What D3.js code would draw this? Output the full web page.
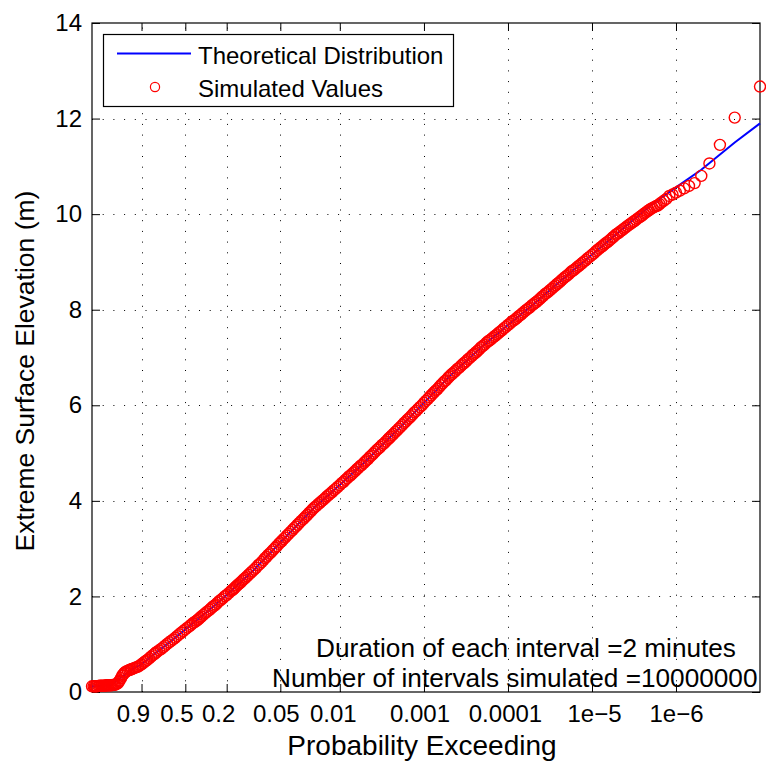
<!DOCTYPE html>
<html><head><meta charset="utf-8">
<script src="https://cdn.jsdelivr.net/npm/d3@7"></script>
<style>
body{margin:0;background:#fff;}
text{font-family:"Liberation Sans",Arial,Helvetica,sans-serif;fill:#000;}
</style>
</head><body>
<svg id="chart" width="766" height="768"></svg>
<script>
// ---------- data ----------
const xTickProbs  = [0.9, 0.5, 0.2, 0.05, 0.01, 0.001, 0.0001, 1e-5, 1e-6];
const xTickLabels = ["0.9", "0.5", "0.2", "0.05", "0.01", "0.001", "0.0001", "1e\u22125", "1e\u22126"];
const yTicks = [0, 2, 4, 6, 8, 10, 12, 14];
const xDomainProb = [0.99987, 1e-7];
const yDomain = [0, 14];

const theoProb  = [0.99987, 0.9998, 0.999, 0.995, 0.98, 0.95, 0.9, 0.8, 0.7, 0.5, 0.3, 0.2, 0.1, 0.05, 0.02, 0.01,
                   0.005, 0.002, 0.001, 5e-4, 2e-4, 1e-4, 5e-5, 2e-5, 1e-5, 5e-6, 2e-6, 1e-6, 5e-7, 2e-7, 1e-7];
const theoValue = [0.12, 0.12, 0.13, 0.14, 0.32, 0.48, 0.58, 0.80, 0.97, 1.31, 1.72, 2.03, 2.56, 3.13, 3.86, 4.33,
                   4.82, 5.51, 6.05, 6.60, 7.24, 7.68, 8.11, 8.71, 9.15, 9.60, 10.18, 10.56, 10.93, 11.50, 11.90];

// simulated values, ordered from the most to the least probable
const simProbHigh = [0.99987, 0.99981, 0.99975, 0.99968, 0.9996, 0.99945, 0.9993, 0.9991, 0.9989, 0.9986, 0.9983,
  0.9979, 0.9975, 0.997, 0.9965, 0.9958, 0.995, 0.994, 0.993, 0.992, 0.991, 0.9895, 0.988, 0.9865, 0.985, 0.9825,
  0.98, 0.9775, 0.975, 0.9725, 0.97, 0.965, 0.96, 0.955, 0.95, 0.943, 0.935, 0.928, 0.92, 0.91, 0.9, 0.89, 0.88,
  0.87, 0.86, 0.845, 0.83, 0.815, 0.8, 0.79, 0.78, 0.76, 0.74, 0.72, 0.7, 0.68, 0.66, 0.64, 0.62, 0.6, 0.58, 0.56,
  0.54, 0.52];
const simValueHigh = [0.12, 0.12, 0.12, 0.12, 0.12, 0.125, 0.13, 0.13, 0.13, 0.13, 0.13,
  0.135, 0.14, 0.14, 0.14, 0.14, 0.14, 0.145, 0.15, 0.15, 0.155, 0.17, 0.18, 0.21, 0.24, 0.29,
  0.34, 0.37, 0.40, 0.415, 0.43, 0.445, 0.46, 0.47, 0.48, 0.495, 0.51, 0.52, 0.53, 0.555, 0.58, 0.605, 0.63,
  0.65, 0.67, 0.705, 0.74, 0.77, 0.80, 0.82, 0.84, 0.87, 0.90, 0.935, 0.97, 1.005, 1.04, 1.07, 1.10, 1.135, 1.17, 1.205,
  1.24, 1.275];

const simProbMid = [0.5, 0.48, 0.46, 0.445, 0.43, 0.415, 0.4, 0.39, 0.38, 0.37, 0.36, 0.345, 0.33, 0.315, 0.3,
  0.29, 0.28, 0.27, 0.26, 0.25, 0.24, 0.23, 0.22, 0.21, 0.2, 0.19, 0.18, 0.175, 0.17, 0.165, 0.16, 0.155, 0.15,
  0.145, 0.14, 0.135, 0.13, 0.125, 0.12, 0.115, 0.11, 0.105, 0.1];
const simValueMid = [1.31, 1.345, 1.38, 1.41, 1.44, 1.465, 1.49, 1.51, 1.53, 1.555, 1.58, 1.615, 1.65, 1.685, 1.72,
  1.75, 1.78, 1.805, 1.83, 1.865, 1.90, 1.93, 1.96, 2.00, 2.03, 2.07, 2.11, 2.13, 2.15, 2.175, 2.20, 2.225, 2.25,
  2.275, 2.30, 2.33, 2.36, 2.39, 2.42, 2.455, 2.49, 2.525, 2.56];

const simProbD1 = [9.5e-2, 9e-2, 8.6e-2, 8.2e-2, 7.8e-2, 7.5e-2, 7.2e-2, 6.9e-2, 6.6e-2, 6.3e-2, 6e-2, 5.7e-2, 5.5e-2,
  5.2e-2, 5e-2, 4.8e-2, 4.6e-2, 4.4e-2, 4.2e-2, 4e-2, 3.8e-2, 3.6e-2, 3.45e-2, 3.3e-2, 3.15e-2, 3e-2, 2.85e-2, 2.7e-2,
  2.6e-2, 2.5e-2, 2.4e-2, 2.3e-2, 2.2e-2, 2.1e-2, 2e-2, 1.9e-2, 1.8e-2, 1.72e-2, 1.65e-2, 1.57e-2, 1.5e-2, 1.43e-2,
  1.36e-2, 1.3e-2, 1.24e-2, 1.18e-2, 1.12e-2, 1.06e-2];
const simValueD1 = [2.60, 2.65, 2.68, 2.72, 2.76, 2.80, 2.83, 2.87, 2.90, 2.94, 2.98, 3.02, 3.05,
  3.10, 3.13, 3.16, 3.20, 3.23, 3.27, 3.31, 3.35, 3.39, 3.43, 3.46, 3.50, 3.54, 3.58, 3.62,
  3.65, 3.68, 3.71, 3.75, 3.78, 3.82, 3.86, 3.89, 3.93, 3.96, 3.99, 4.02, 4.05, 4.09,
  4.12, 4.15, 4.18, 4.22, 4.25, 4.29];

const simProbD2 = [1e-2, 9.5e-3, 9e-3, 8.6e-3, 8.2e-3, 7.8e-3, 7.5e-3, 7.2e-3, 6.9e-3, 6.6e-3, 6.3e-3, 6e-3, 5.7e-3,
  5.5e-3, 5.2e-3, 5e-3, 4.8e-3, 4.6e-3, 4.4e-3, 4.2e-3, 4e-3, 3.8e-3, 3.6e-3, 3.45e-3, 3.3e-3, 3.15e-3, 3e-3,
  2.85e-3, 2.7e-3, 2.6e-3, 2.5e-3, 2.4e-3, 2.3e-3, 2.2e-3, 2.1e-3, 2e-3, 1.9e-3, 1.8e-3, 1.72e-3, 1.65e-3, 1.57e-3,
  1.5e-3, 1.43e-3, 1.36e-3, 1.3e-3, 1.24e-3, 1.18e-3, 1.12e-3, 1.06e-3];
const simValueD2 = [4.33, 4.37, 4.40, 4.44, 4.47, 4.51, 4.53, 4.56, 4.59, 4.62, 4.66, 4.69, 4.73,
  4.75, 4.79, 4.82, 4.85, 4.88, 4.92, 4.95, 4.99, 5.03, 5.07, 5.10, 5.13, 5.17, 5.20,
  5.24, 5.28, 5.31, 5.34, 5.37, 5.40, 5.44, 5.47, 5.51, 5.55, 5.59, 5.63, 5.66, 5.70,
  5.73, 5.77, 5.81, 5.85, 5.88, 5.92, 5.96, 6.00];

const simProbD3 = [1e-3, 9.5e-4, 9e-4, 8.6e-4, 8.2e-4, 7.8e-4, 7.5e-4, 7.2e-4, 6.9e-4, 6.6e-4, 6.3e-4, 6e-4, 5.7e-4,
  5.5e-4, 5.2e-4, 5e-4, 4.8e-4, 4.6e-4, 4.4e-4, 4.2e-4, 4e-4, 3.8e-4, 3.6e-4, 3.45e-4, 3.3e-4, 3.15e-4, 3e-4,
  2.85e-4, 2.7e-4, 2.6e-4, 2.5e-4, 2.4e-4, 2.3e-4, 2.2e-4, 2.1e-4, 2e-4, 1.9e-4, 1.8e-4, 1.72e-4, 1.65e-4, 1.57e-4,
  1.5e-4, 1.43e-4, 1.36e-4, 1.3e-4, 1.24e-4, 1.18e-4, 1.12e-4, 1.06e-4];
const simValueD3 = [6.05, 6.09, 6.13, 6.17, 6.21, 6.25, 6.28, 6.31, 6.34, 6.38, 6.42, 6.46, 6.50,
  6.52, 6.57, 6.60, 6.63, 6.66, 6.69, 6.72, 6.76, 6.79, 6.83, 6.86, 6.89, 6.92, 6.96,
  6.99, 7.03, 7.06, 7.08, 7.11, 7.14, 7.17, 7.21, 7.24, 7.27, 7.31, 7.34, 7.36, 7.39,
  7.42, 7.45, 7.48, 7.51, 7.54, 7.57, 7.61, 7.64];

const simProbD4 = [1e-4, 9.5e-5, 9e-5, 8.6e-5, 8.2e-5, 7.8e-5, 7.5e-5, 7.2e-5, 6.9e-5, 6.6e-5, 6.3e-5, 6e-5, 5.7e-5,
  5.5e-5, 5.2e-5, 5e-5, 4.8e-5, 4.6e-5, 4.4e-5, 4.2e-5, 4e-5, 3.8e-5, 3.6e-5, 3.45e-5, 3.3e-5, 3.15e-5, 3e-5,
  2.85e-5, 2.7e-5, 2.6e-5, 2.5e-5, 2.4e-5, 2.3e-5, 2.2e-5, 2.1e-5, 2e-5, 1.9e-5, 1.8e-5, 1.72e-5, 1.65e-5, 1.57e-5,
  1.5e-5, 1.43e-5, 1.36e-5, 1.3e-5, 1.24e-5, 1.18e-5, 1.12e-5, 1.06e-5];
const simValueD4 = [7.68, 7.71, 7.75, 7.77, 7.80, 7.83, 7.86, 7.88, 7.91, 7.94, 7.97, 8.00, 8.03,
  8.05, 8.09, 8.11, 8.14, 8.16, 8.19, 8.22, 8.26, 8.29, 8.33, 8.35, 8.38, 8.41, 8.44,
  8.48, 8.51, 8.54, 8.56, 8.59, 8.62, 8.65, 8.68, 8.71, 8.74, 8.78, 8.81, 8.83, 8.86,
  8.89, 8.92, 8.95, 8.98, 9.01, 9.04, 9.08, 9.11];

const simProbD5 = [1e-5, 9.5e-6, 9e-6, 8.6e-6, 8.2e-6, 7.8e-6, 7.5e-6, 7.2e-6, 6.9e-6, 6.6e-6, 6.3e-6, 6e-6, 5.7e-6,
  5.5e-6, 5.2e-6, 5e-6, 4.8e-6, 4.6e-6, 4.4e-6, 4.2e-6, 4e-6, 3.8e-6, 3.6e-6, 3.45e-6, 3.3e-6, 3.15e-6, 3e-6,
  2.85e-6, 2.7e-6, 2.6e-6, 2.5e-6, 2.4e-6, 2.3e-6, 2.2e-6, 2.1e-6, 2e-6, 1.9e-6, 1.8e-6, 1.72e-6, 1.65e-6, 1.57e-6,
  1.5e-6];
const simValueD5 = [9.15, 9.18, 9.22, 9.25, 9.28, 9.31, 9.33, 9.36, 9.39, 9.41, 9.44, 9.47, 9.51,
  9.53, 9.57, 9.59, 9.61, 9.64, 9.66, 9.69, 9.72, 9.75, 9.78, 9.80, 9.83, 9.85, 9.88,
  9.91, 9.94, 9.96, 9.98, 10.01, 10.03, 10.06, 10.08, 10.11, 10.13, 10.15, 10.17, 10.18, 10.21,
  10.24];

// the largest simulated maxima (individual ranks)
const simProbTail  = [1.4e-6, 1.3e-6, 1.2e-6, 1.1e-6, 1e-6, 9e-7, 8e-7, 7e-7, 6e-7, 5e-7, 4e-7, 3e-7, 2e-7, 1e-7];
const simValueTail = [10.28, 10.32, 10.38, 10.41, 10.45, 10.49, 10.54, 10.59, 10.65, 10.80, 11.06, 11.45, 12.02, 12.67];

const legendLabels = ["Theoretical Distribution", "Simulated Values"];
const noteLines = ["Duration of each interval =2 minutes", "Number of intervals simulated =10000000"];
const xTitle = "Probability Exceeding";
const yTitle = "Extreme Surface Elevation (m)";

// ---------- assemble ----------
const simProb  = [].concat(simProbHigh, simProbMid, simProbD1, simProbD2, simProbD3, simProbD4, simProbD5, simProbTail);
const simValue = [].concat(simValueHigh, simValueMid, simValueD1, simValueD2, simValueD3, simValueD4, simValueD5, simValueTail);
if (simProb.length !== simValue.length) console.error("length mismatch", simProb.length, simValue.length);

// ---------- layout ----------
const L = 92, R = 760, T = 23, B = 692;
const labelNudge = [-8.5, -9, -8.5, -4.5, -7, -4.5, -3, 2, 0]; // tick label offsets as drawn in the original
const svg = d3.select("#chart");
svg.append("rect").attr("width", 766).attr("height", 768).attr("fill", "#fff");

// Gumbel (extreme value) probability paper transform
const gumbel = p => -Math.log(-Math.log1p(-p));
const x = d3.scaleLinear().domain(xDomainProb.map(gumbel)).range([L, R]);
const y = d3.scaleLinear().domain(yDomain).range([B, T]);
const X = p => x(gumbel(p));

// grid (dotted)
const grid = svg.append("g").attr("stroke", "#000").attr("stroke-width", 1)
  .attr("stroke-dasharray", "1,9.7").attr("fill", "none");
xTickProbs.forEach(p => {
  const xx = Math.round(X(p)) + 0.5;
  grid.append("line").attr("x1", xx).attr("x2", xx).attr("y1", B).attr("y2", T);
});
yTicks.filter(v => v > yDomain[0] && v < yDomain[1]).forEach(v => {
  const yy = Math.round(y(v)) + 0.5;
  grid.append("line").attr("x1", L).attr("x2", R).attr("y1", yy).attr("y2", yy);
});

// axes (ticks inward on all four sides)
const tickVals = xTickProbs.map(gumbel);
const gx = svg.append("g").attr("transform", `translate(0,${B})`)
  .call(d3.axisBottom(x).tickValues(tickVals).tickSize(-8).tickPadding(12.5)
        .tickFormat((d, i) => xTickLabels[i]));
gx.selectAll(".tick text").attr("dx", (d, i) => labelNudge[i]);
const gxt = svg.append("g").attr("transform", `translate(0,${T})`)
  .call(d3.axisTop(x).tickValues(tickVals).tickSize(-8).tickFormat(""));
const gy = svg.append("g").attr("transform", `translate(${L},0)`)
  .call(d3.axisLeft(y).tickValues(yTicks).tickSize(-8).tickPadding(10));
const gyr = svg.append("g").attr("transform", `translate(${R},0)`)
  .call(d3.axisRight(y).tickValues(yTicks).tickSize(-8).tickFormat(""));
[gx, gxt, gy, gyr].forEach(g => {
  g.select(".domain").remove();
  g.selectAll(".tick line").attr("stroke", "#000").attr("stroke-width", 1);
  g.selectAll("text").attr("font-size", 24).attr("font-family", '"Liberation Sans",Arial,sans-serif').attr("fill", "#000");
});
svg.append("rect").attr("x", L).attr("y", T).attr("width", R - L).attr("height", B - T)
  .attr("fill", "none").attr("stroke", "#000").attr("stroke-width", 1.2);

// theoretical line
const line = d3.line().x(d => X(d[0])).y(d => y(d[1]));
svg.append("path").datum(theoProb.map((p, i) => [p, theoValue[i]]))
  .attr("d", line).attr("fill", "none").attr("stroke", "#0000ff").attr("stroke-width", 2);

// simulated values
svg.append("g").selectAll("circle").data(simProb.map((p, i) => [p, simValue[i]])).join("circle")
  .attr("cx", d => X(d[0])).attr("cy", d => y(d[1])).attr("r", 5.5)
  .attr("fill", "none").attr("stroke", "#ff0000").attr("stroke-width", 1.4);

// axis titles
svg.append("text").attr("x", 422).attr("y", 755).attr("text-anchor", "middle")
  .attr("font-size", 28).text(xTitle);
svg.append("text").attr("transform", "translate(34,371) rotate(-90)").attr("text-anchor", "middle")
  .attr("font-size", 26.5).text(yTitle);

// annotation
svg.append("text").attr("x", 316).attr("y", 656.5).attr("font-size", 26.2).text(noteLines[0]);
svg.append("text").attr("x", 272).attr("y", 686.5).attr("font-size", 26.2).text(noteLines[1]);

// legend
const lg = svg.append("g");
lg.append("rect").attr("x", 103.5).attr("y", 34.5).attr("width", 350).attr("height", 72)
  .attr("fill", "#fff").attr("stroke", "#000").attr("stroke-width", 1.2);
lg.append("line").attr("x1", 117).attr("x2", 191).attr("y1", 53.5).attr("y2", 53.5)
  .attr("stroke", "#0000ff").attr("stroke-width", 2);
lg.append("circle").attr("cx", 155).attr("cy", 87).attr("r", 4.6)
  .attr("fill", "none").attr("stroke", "#ff0000").attr("stroke-width", 1.2);
lg.append("text").attr("x", 198).attr("y", 64).attr("font-size", 24).text(legendLabels[0]);
lg.append("text").attr("x", 198).attr("y", 97).attr("font-size", 24).text(legendLabels[1]);
</script>
</body></html>
